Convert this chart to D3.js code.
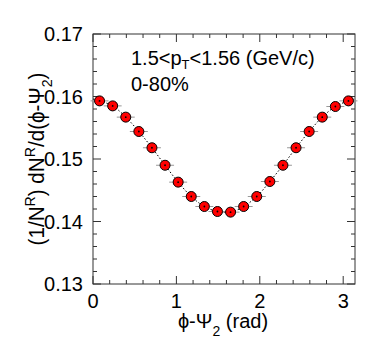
<!DOCTYPE html>
<html>
<head>
<meta charset="utf-8">
<script src="https://cdn.jsdelivr.net/npm/d3@7"></script>
<style>
  body { margin: 0; background: #fff; }
  text { font-family: "Liberation Sans", Arial, sans-serif; fill: #000; }
</style>
</head>
<body>
<svg id="chart" width="374" height="355"></svg>
<script>
// bin centres (rad) and measured values
const phiBins = d3.range(20).map(i => (i + 0.5) * Math.PI / 20);
const yields = [0.1593, 0.1585, 0.1567, 0.1544, 0.1518, 0.1490, 0.1463, 0.1440, 0.1424, 0.1416,
                0.1415, 0.1424, 0.1440, 0.1464, 0.1490, 0.1518, 0.1544, 0.1567, 0.1584, 0.1593];
const curveEnds = [0.1596, 0.1596];
const xTicks = [0, 1, 2, 3];
const yTicks = [0.13, 0.14, 0.15, 0.16, 0.17];

function renderChart(svg) {
  svg = d3.select(svg);
  let margin = { left: 93, right: 19, top: 34, bottom: 71 };
  let width = +svg.attr('width');
  let height = +svg.attr('height');

  let x = d3.scaleLinear().domain([0, Math.PI]).range([margin.left, width - margin.right]);
  let y = d3.scaleLinear().domain([0.13, 0.17]).range([height - margin.bottom, margin.top]);

  // frame
  svg.append('rect')
    .attr('x', x(0)).attr('y', y(0.17))
    .attr('width', x(Math.PI) - x(0)).attr('height', y(0.13) - y(0.17))
    .attr('fill', 'none').attr('stroke', '#333').attr('stroke-width', 1);

  let ticks = svg.append('g').attr('stroke', '#333').attr('stroke-width', 1);
  let xMinor = d3.range(0, 3.15, 0.2);
  xMinor.forEach(v => {
    let major = xTicks.some(t => Math.abs(t - v) < 1e-6);
    let len = major ? 8 : 4;
    ticks.append('line').attr('x1', x(v)).attr('x2', x(v)).attr('y1', y(0.13)).attr('y2', y(0.13) - len);
    ticks.append('line').attr('x1', x(v)).attr('x2', x(v)).attr('y1', y(0.17)).attr('y2', y(0.17) + len);
  });
  let yMinor = d3.range(0.13, 0.1701, 0.002);
  yMinor.forEach(v => {
    let major = yTicks.some(t => Math.abs(t - v) < 1e-6);
    let len = major ? 8 : 4;
    ticks.append('line').attr('y1', y(v)).attr('y2', y(v)).attr('x1', x(0)).attr('x2', x(0) + len);
    ticks.append('line').attr('y1', y(v)).attr('y2', y(v)).attr('x1', x(Math.PI)).attr('x2', x(Math.PI) - len);
  });

  // tick labels
  svg.append('g').selectAll('text').data(xTicks).enter().append('text')
    .attr('x', d => x(d)).attr('y', 308)
    .attr('text-anchor', 'middle').attr('font-size', 20)
    .text(d => d);
  svg.append('g').selectAll('text').data(yTicks).enter().append('text')
    .attr('x', 83).attr('y', d => y(d) + 7)
    .attr('text-anchor', 'end').attr('font-size', 20)
    .text(d => d.toFixed(2));

  // axis titles
  let xt = svg.append('text').attr('x', 223).attr('y', 328)
    .attr('text-anchor', 'middle').attr('font-size', 20);
  xt.append('tspan').text('ϕ-Ψ');
  xt.append('tspan').attr('font-size', 14).attr('dy', 8).text('2');
  xt.append('tspan').attr('dy', -8).text(' (rad)');

  let yt = svg.append('text')
    .attr('text-anchor', 'middle').attr('font-size', 22);
  yt.append('tspan').text('(1/N');
  yt.append('tspan').attr('font-size', 15).attr('dy', -9).text('R');
  yt.append('tspan').attr('dy', 9).text(') dN');
  yt.append('tspan').attr('font-size', 15).attr('dy', -9).text('R');
  yt.append('tspan').attr('dy', 9).text('/d(ϕ-Ψ');
  yt.append('tspan').attr('font-size', 15).attr('dy', 8).text('2');
  yt.append('tspan').attr('dy', -8).text(')');
  // fit title length to ~173px as in the original
  let tw = yt.node().getBBox().width;
  let s = Math.min(1, 173 / tw);
  yt.attr('transform', `translate(44,159) rotate(-90) scale(${s},1)`);

  // annotation
  let t1 = svg.append('text').attr('x', 131).attr('y', 65).attr('font-size', 20);
  t1.append('tspan').text('1.5<p');
  t1.append('tspan').attr('font-size', 13).attr('dy', 4).text('T');
  t1.append('tspan').attr('dy', -4).text('<1.56 (GeV/c)');
  svg.append('text').attr('x', 131).attr('y', 91).attr('font-size', 20).text('0-80%');

  // dotted fit-like line through the points
  let pts = [[0, curveEnds[0]]].concat(phiBins.map((p, i) => [p, yields[i]]), [[Math.PI, curveEnds[1]]]);
  let line = d3.line().x(d => x(d[0])).y(d => y(d[1])).curve(d3.curveCatmullRom);
  svg.append('path').attr('d', line(pts))
    .attr('fill', 'none').attr('stroke', '#000').attr('stroke-width', 1)
    .attr('stroke-dasharray', '1.5,2');

  // points with horizontal bars
  let pg = svg.append('g');
  let data = phiBins.map((p, i) => ({ p, v: yields[i] }));
  pg.selectAll('line.err').data(data).enter().append('line')
    .attr('x1', d => x(d.p) - 9).attr('x2', d => x(d.p) + 9)
    .attr('y1', d => y(d.v)).attr('y2', d => y(d.v))
    .attr('stroke', '#999').attr('stroke-width', 1);
  pg.selectAll('circle.m').data(data).enter().append('circle')
    .attr('cx', d => x(d.p)).attr('cy', d => y(d.v)).attr('r', 5)
    .attr('fill', '#ff0000').attr('stroke', '#000').attr('stroke-width', 1);
  pg.selectAll('circle.c').data(data).enter().append('circle')
    .attr('cx', d => x(d.p)).attr('cy', d => y(d.v)).attr('r', 0.9)
    .attr('fill', '#000');
}

renderChart(document.getElementById('chart'));
</script>
</body>
</html>
